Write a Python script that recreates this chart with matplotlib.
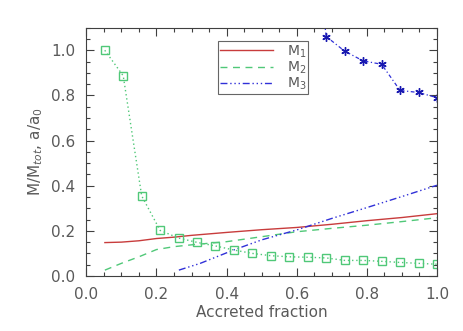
import matplotlib
matplotlib.use("Agg")
import matplotlib.pyplot as plt
from matplotlib.ticker import MultipleLocator

# sampled curves
m1_x = [0.053, 0.10, 0.15, 0.20, 0.25, 0.30, 0.40, 0.50, 0.60, 0.70, 0.80, 0.90, 1.00]
m1_y = [0.148, 0.150, 0.156, 0.166, 0.172, 0.180, 0.193, 0.205, 0.215, 0.229, 0.245, 0.259, 0.276]

m2_x = [0.053, 0.10, 0.15, 0.20, 0.25, 0.30, 0.40, 0.50, 0.60, 0.70, 0.80, 0.90, 1.00]
m2_y = [0.026, 0.056, 0.085, 0.117, 0.130, 0.138, 0.152, 0.174, 0.196, 0.211, 0.225, 0.241, 0.258]

m3_x = [0.264, 0.325, 0.42, 0.50, 0.60, 0.70, 0.80, 0.90, 1.00]
m3_y = [0.026, 0.056, 0.115, 0.160, 0.204, 0.255, 0.303, 0.352, 0.402]

# square points (accreted fraction = k/19)
sq_x = [k / 19 for k in range(1, 20)]
sq_y = [1.000, 0.887, 0.355, 0.202, 0.168, 0.149, 0.133, 0.115, 0.100, 0.090,
        0.085, 0.083, 0.080, 0.069, 0.069, 0.065, 0.060, 0.056, 0.052]

# asterisk points
st_x = [12 / 19, 13 / 19, 14 / 19, 15 / 19, 16 / 19, 17 / 19, 18 / 19, 1.0]
st_y = [1.74, 1.061, 0.996, 0.953, 0.938, 0.822, 0.813, 0.790]

fig = plt.figure(figsize=(4.63, 3.31), dpi=100)
ax = fig.add_axes([0.1864, 0.1662, 0.7574, 0.7501])

red = "#c83c3c"
green = "#50c878"
blue = "#3030d8"
grey = "#404040"
txt = "#5a5a5a"

ax.plot(m1_x, m1_y, color=red, lw=1.0, label="M$_1$")
ax.plot(m2_x, m2_y, color=green, lw=1.0, ls=(0, (5, 4)), label="M$_2$")
ax.plot(m3_x, m3_y, color=blue, lw=1.0, ls=(0, (5, 2, 1, 2, 1, 2, 1, 2)), label="M$_3$")

ax.plot(sq_x, sq_y, color=green, lw=1.0, ls=(0, (1, 2)), marker="s", ms=6,
        mfc="none", mec=green, mew=1.0)
ax.plot(st_x, st_y, color=blue, lw=0.9, ls=(0, (1, 2, 3, 2)), marker=(6, 2, 0),
        ms=6, mec="#1818b0", mew=1.0)

ax.set_xlim(0, 1.0)
ax.set_ylim(0, 1.1)
ax.xaxis.set_major_locator(MultipleLocator(0.2))
ax.xaxis.set_minor_locator(MultipleLocator(0.05))
ax.yaxis.set_major_locator(MultipleLocator(0.2))
ax.yaxis.set_minor_locator(MultipleLocator(0.05))
ax.tick_params(which="both", direction="in", top=True, right=True, colors=grey,
               labelcolor=txt, labelsize=11, width=0.8)
ax.tick_params(which="major", length=6, pad=8)
ax.tick_params(which="minor", length=3)
ax.xaxis.set_major_formatter(plt.FuncFormatter(lambda v, p: f"{v:.1f}"))
ax.yaxis.set_major_formatter(plt.FuncFormatter(lambda v, p: f"{v:.1f}"))
for s in ax.spines.values():
    s.set_color(grey)
    s.set_linewidth(0.8)

ax.set_xlabel("Accreted fraction", fontsize=11, color=txt, labelpad=2)
ax.set_ylabel("M/M$_{tot}$, a/a$_0$", fontsize=11, color=txt, labelpad=4)

leg = ax.legend(loc="upper left", bbox_to_anchor=(0.375, 0.946), fontsize=10,
                frameon=True, fancybox=False, edgecolor=grey, handlelength=3.8,
                borderpad=0.15, labelspacing=0.0, handletextpad=1.0,
                borderaxespad=0.0)
leg.get_frame().set_linewidth(0.8)
for t in leg.get_texts():
    t.set_color(txt)

fig.savefig("out.png", dpi=100)
